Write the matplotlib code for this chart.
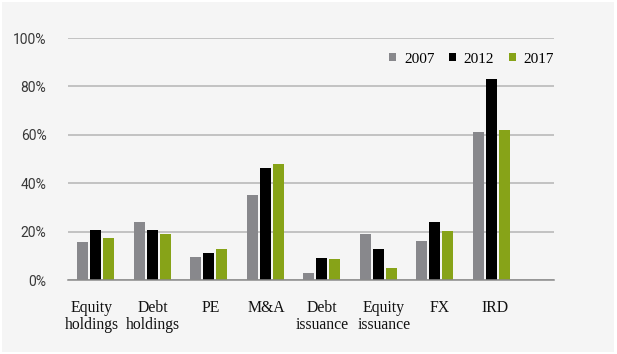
import matplotlib
matplotlib.use("Agg")
import matplotlib.pyplot as plt
from matplotlib.patches import Rectangle, Patch
import numpy as np

categories = ["Equity\nholdings", "Debt\nholdings", "PE", "M&A",
              "Debt\nissuance", "Equity\nissuance", "FX", "IRD"]
years = ["2007", "2012", "2017"]
values_2007 = [15.7, 24.0, 9.5, 35.1, 2.9, 19.0, 16.1, 61.2]
values_2012 = [20.7, 20.7, 11.2, 46.3, 9.1, 12.8, 24.0, 83.1]
values_2017 = [17.4, 19.0, 12.8, 48.1, 8.7, 5.0, 20.2, 62.0]
yticks = [0, 20, 40, 60, 80, 100]

colors = ["#88888c", "#000000", "#87a318"]
series = [values_2007, values_2012, values_2017]

W, H = 617, 354
fig = plt.figure(figsize=(W / 100, H / 100), dpi=100, facecolor="white")
# light panel behind the chart
fig.patches.append(Rectangle((2 / W, 2 / H), (W - 5) / W, (H - 4) / H,
                             transform=fig.transFigure, facecolor="#f5f5f5",
                             edgecolor="none", zorder=-5))

ax = fig.add_axes([68 / W, 74 / H, (554 - 68) / W, 242 / H])
ax.set_zorder(2)
ax.set_facecolor("none")

x = np.arange(len(categories))
bw = 0.195
step = 0.23
for i, (vals, col) in enumerate(zip(series, colors)):
    ax.bar(x + (i - 1) * step, vals, width=bw, color=col, zorder=3)

ax.set_xlim(-0.49, 8.11)
ax.set_ylim(0, 100)
ax.set_yticks(yticks)
ax.set_yticklabels([f"{t}%" for t in yticks], fontsize=10, color="#383838",
                   family="Roboto")
ax.tick_params(axis="y", length=0, pad=15.5)
ax.set_xticks([])
ax.grid(axis="y", color="#b4b4b4", linewidth=1.1, zorder=1)
for s in ["top", "right", "left"]:
    ax.spines[s].set_visible(False)
ax.spines["bottom"].set_color("#8a8a8a")
ax.spines["bottom"].set_linewidth(1.1)
ax.spines["bottom"].set_zorder(4)

# category labels sit in a row under the axis
label_px = [92, 152.7, 210.5, 266.3, 322.3, 384, 440, 495.3]
for lab, px in zip(categories, label_px):
    fig.text(px / W, 1 - 300 / H, lab, ha="center", va="top",
             fontsize=11.3, family="Liberation Serif", color="#111111",
             linespacing=1.1)

handles = [Patch(facecolor=c, edgecolor="none") for c in colors]
ax.legend(handles, years, loc="center right", bbox_to_anchor=(1.0, 0.913),
          ncol=3, frameon=False, borderaxespad=0, borderpad=0,
          handlelength=0.46, handleheight=0.46, handletextpad=0.5,
          columnspacing=0.95,
          prop={"family": "Liberation Serif", "size": 11})

fig.savefig("out.png", dpi=100, facecolor="white")
